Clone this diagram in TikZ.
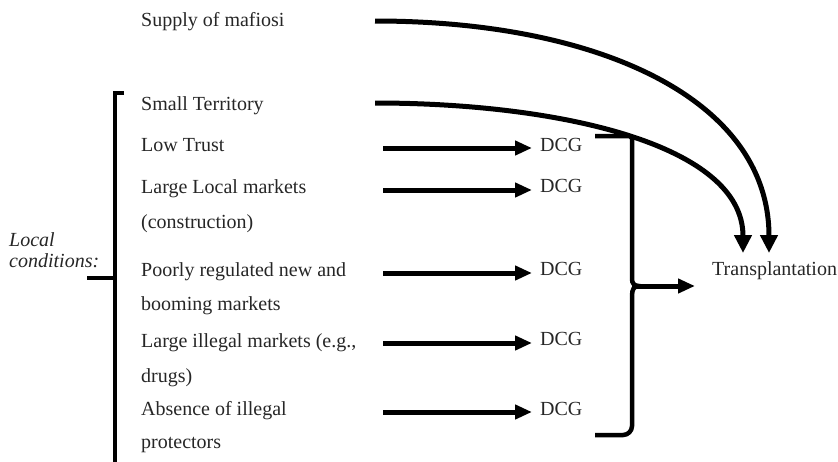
\documentclass[tikz,border=0pt]{standalone}
\usepackage{fontspec}
\setmainfont{Liberation Serif}
\usetikzlibrary{arrows.meta}
\begin{document}
\begin{tikzpicture}[x=1pt,y=-1pt,
  lbl/.style={anchor=base west, inner sep=0pt, font=\fontsize{20}{24}\selectfont, text=black!85},
  flow/.style={line width=5pt, -{Triangle[length=17pt,width=14pt]}},
  bendarrow/.style={line width=5pt, -{Triangle[length=18pt,width=17pt]}},
  brace/.style={line width=4.5pt, line join=miter}]
\clip (0,0) rectangle (838,461);

% factors
\node[lbl] (supply) at (141,26) {Supply of mafiosi};
\node[lbl] (small)  at (141,110) {Small Territory};
\node[lbl] (trust)  at (141,151) {Low Trust};
\node[lbl] (local1) at (141,193) {Large Local markets};
\node[lbl] (local2) at (141,228) {(construction)};
\node[lbl] (boom1)  at (141,276) {Poorly regulated new and};
\node[lbl] (boom2)  at (141,310) {booming markets};
\node[lbl] (illeg1) at (141,347) {Large illegal markets (e.g.,};
\node[lbl] (illeg2) at (141,382) {drugs)};
\node[lbl] (prot1)  at (141,415) {Absence of illegal};
\node[lbl] (prot2)  at (141,448) {protectors};

\node[lbl, font=\fontsize{20}{24}\selectfont\itshape] (lc1) at (9,246) {Local};
\node[lbl, font=\fontsize{20}{24}\selectfont\itshape] (lc2) at (9,267) {conditions:};

% DCG outcomes
\node[lbl] (d1) at (540,151) {DCG};
\node[lbl] (d2) at (540,192) {DCG};
\node[lbl] (d3) at (540,275) {DCG};
\node[lbl] (d4) at (540,345) {DCG};
\node[lbl] (d5) at (540,415) {DCG};

\node[lbl] (tr) at (712,275) {Transplantation};

% straight arrows to DCG
\coordinate (a1) at (383,148);
\coordinate (a2) at (383,190);
\coordinate (a3) at (383,273);
\coordinate (a4) at (383,343);
\coordinate (a5) at (383,412);
\foreach \i in {1,...,5}
  \draw[flow, shorten >=8pt] (a\i) -- (a\i -| d\i.west);

% curved arrows to transplantation
\coordinate (s0) at (375,21);
\coordinate (t0) at (769,253);
\coordinate (s1) at (375,103);
\coordinate (t1) at (743,253);
\draw[bendarrow] (s0) .. controls (600,21) and (769,100) .. (t0);
\draw[bendarrow] (s1) .. controls (560,103) and (743,145) .. (t1);

% right brace collecting DCG
\coordinate (rbm) at (632,286);
\draw[brace] (595,136) [rounded corners=3pt] -- (632,136) -- (632,276) [sharp corners]
  .. controls (632,283) and (634,286) .. (639,286)
  .. controls (634,286) and (632,289) .. (632,296)
  [rounded corners=9pt] -- (632,435) -- (595,435);
\draw[flow, shorten >=17pt] (rbm) -- (rbm -| tr.west);

% left brace for local conditions
\coordinate (lbtop) at (115,93);
\coordinate (lbmid) at (115,278);
\draw[brace, line width=4pt] (124,93) -- (lbtop) -- (115,470);
\draw[brace, line width=4pt] (87,278) -- (lbmid);
\end{tikzpicture}
\end{document}
